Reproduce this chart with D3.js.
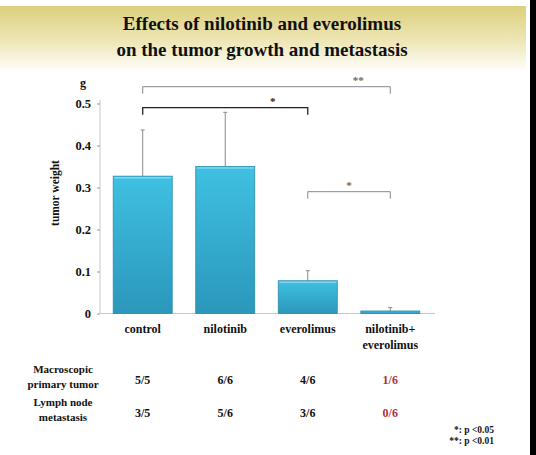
<!DOCTYPE html>
<html><head><meta charset="utf-8">
<script src="https://cdn.jsdelivr.net/npm/d3@7"></script>
<style>body{margin:0;background:#fff}svg{display:block}</style>
</head><body><svg id="c" width="536" height="455"></svg>
<script>
const categories = ["control", "nilotinib", "everolimus", "nilotinib+\neverolimus"];
const tumorWeight = [0.327, 0.350, 0.078, 0.006];
const errorUpper = [0.110, 0.129, 0.024, 0.008];
const yTicks = [0, 0.1, 0.2, 0.3, 0.4, 0.5];
const primaryTumor = ["5/5", "6/6", "4/6", "1/6"];
const lymphNode = ["3/5", "5/6", "3/6", "0/6"];
const highlight = [false, false, false, true];
const rowLabels = [["Macroscopic", "primary tumor"], ["Lymph node", "metastasis"]];
const brackets = [
  {from: 0, to: 3, level: 0.54, label: "**"},
  {from: 0, to: 2, level: 0.49, label: "*"},
  {from: 2, to: 3, level: 0.29, label: "*"}
];
const footnotes = ["*: p <0.05", "**: p <0.01"];
const titleLines = ["Effects of nilotinib and everolimus", "on the tumor growth and metastasis"];

const FONT = "'Liberation Serif', Tinos, 'Times New Roman', 'DejaVu Serif', serif";
const svg = d3.select("#c");
function txt(parent, size, fill) {
  return parent.append("text").style("font-family", FONT).style("font-weight", "bold")
    .style("font-size", size + "px").style("fill", fill || "#111");
}
const defs = svg.append("defs");
const hg = defs.append("linearGradient").attr("id","hdr").attr("x1",0).attr("y1",0).attr("x2",0).attr("y2",1);
hg.append("stop").attr("offset","0%").attr("stop-color","#dccf7e");
hg.append("stop").attr("offset","55%").attr("stop-color","#efe7b8");
hg.append("stop").attr("offset","100%").attr("stop-color","#ffffff");
const bg = defs.append("linearGradient").attr("id","bar").attr("x1",0).attr("y1",0).attr("x2",0).attr("y2",1);
bg.append("stop").attr("offset","0%").attr("stop-color","#3fc0e2");
bg.append("stop").attr("offset","100%").attr("stop-color","#2b97bb");

// header band and right border
svg.append("rect").attr("x",0).attr("y",6).attr("width",526).attr("height",66).attr("fill","url(#hdr)");
svg.append("rect").attr("x",530).attr("y",0).attr("width",6).attr("height",455).attr("fill","#000");

titleLines.forEach((d,i)=>{
  txt(svg, 19).attr("x",262).attr("y",30+i*26).attr("text-anchor","middle").text(d);
});

const y = d3.scaleLinear().domain([0,0.5]).range([313.5,103.5]);
const x = d3.scaleBand().domain(categories).range([100,433]).paddingInner(0.285).paddingOuter(0.16);

// y axis
const yAxis = d3.axisLeft(y).tickValues(yTicks).tickSize(3).tickPadding(6)
  .tickFormat(d=> d===0 ? "0" : d3.format(".1f")(d));
const ga = svg.append("g").attr("transform","translate(100,0)").call(yAxis);
ga.select(".domain").attr("stroke","#c8c8c8").attr("d","M0,100V313.5");
ga.selectAll(".tick line").attr("stroke","#999");
ga.selectAll(".tick text").style("font-size","12.5px").style("fill","#111")
  .style("font-family",FONT).style("font-weight","bold");

txt(svg, 12).attr("x",83).attr("y",87).attr("text-anchor","middle").text("g");
txt(svg, 11.5).attr("transform","translate(59,193) rotate(-90)").attr("text-anchor","middle").text("tumor weight");

// baseline
svg.append("line").attr("x1",100).attr("x2",435).attr("y1",y(0)).attr("y2",y(0)).attr("stroke","#c8c8c8");

// error bars
const eb = svg.append("g");
categories.forEach((c,i)=>{
  const cx = x(c)+x.bandwidth()/2;
  const top = y(tumorWeight[i]+errorUpper[i]);
  eb.append("line").attr("x1",cx).attr("x2",cx).attr("y1",y(tumorWeight[i])).attr("y2",top).attr("stroke","#8a8a8a");
  eb.append("line").attr("x1",cx-2).attr("x2",cx+2).attr("y1",top).attr("y2",top).attr("stroke","#8a8a8a");
});

// bars
svg.selectAll("rect.bar").data(categories).join("rect").attr("class","bar")
  .attr("x",d=>x(d)).attr("width",x.bandwidth())
  .attr("y",(d,i)=>y(tumorWeight[i])).attr("height",(d,i)=>y(0)-y(tumorWeight[i]))
  .attr("fill","url(#bar)").attr("stroke","#2a8cae").attr("stroke-width",0.8);
svg.selectAll("line.hl").data(categories).join("line").attr("class","hl")
  .attr("x1",d=>x(d)+1).attr("x2",d=>x(d)+x.bandwidth()-1)
  .attr("y1",(d,i)=>y(tumorWeight[i])+1.5).attr("y2",(d,i)=>y(tumorWeight[i])+1.5)
  .attr("stroke","#7fd6ee").attr("stroke-width",(d,i)=>tumorWeight[i]>0.02?1.5:0);

// brackets
brackets.forEach((b,k)=>{
  const x1 = x(categories[b.from])+x.bandwidth()/2, x2 = x(categories[b.to])+x.bandwidth()/2;
  const yy = y(b.level);
  const col = k===1 ? "#222" : "#888";
  svg.append("path").attr("d",`M${x1},${yy+7}V${yy}H${x2}V${yy+7}`).attr("fill","none")
    .attr("stroke",col).attr("stroke-width",k===1?1.3:1);
  const lx = k===0 ? x2-32 : (k===1 ? x2-35 : (x1+x2)/2);
  txt(svg, 11, k===1?"#222":"#666").attr("x",lx).attr("y",yy-3).attr("text-anchor","middle").text(b.label);
});

// category labels
categories.forEach(c=>{
  const cx = x(c)+x.bandwidth()/2;
  const t = txt(svg, 12).attr("x",cx).attr("y",333).attr("text-anchor","middle");
  c.split("\n").forEach((s,j)=>t.append("tspan").attr("x",cx).attr("dy",j?16:0).text(s));
});

// table
const rowY = [384, 417];
[primaryTumor, lymphNode].forEach((row,r)=>{
  const lt = txt(svg, 11).attr("x",63).attr("y",rowY[r]-11).attr("text-anchor","middle");
  rowLabels[r].forEach((s,j)=>lt.append("tspan").attr("x",63).attr("dy",j?15:0).text(s));
  row.forEach((v,i)=>{
    txt(svg, 12, highlight[i]?"#b0303a":"#111").attr("x",x(categories[i])+x.bandwidth()/2).attr("y",rowY[r])
      .attr("text-anchor","middle").text(v);
  });
});
footnotes.forEach((f,i)=>{
  txt(svg, 9.5).attr("x",494).attr("y",433+i*11).attr("text-anchor","end").text(f);
});
</script></body></html>
